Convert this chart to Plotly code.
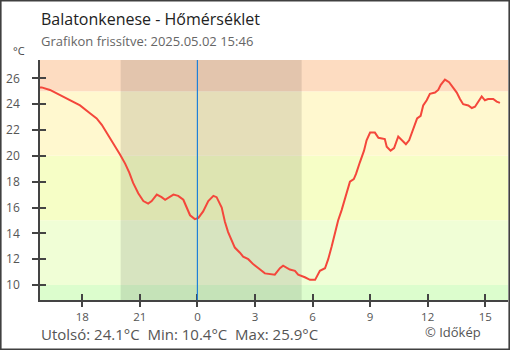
import plotly.graph_objects as go

# Measurement times (local) and air temperature readings, °C
times = [
    "2025-05-01 15:46", "2025-05-01 15:53", "2025-05-01 16:19", "2025-05-01 16:50",
    "2025-05-01 17:22", "2025-05-01 17:53", "2025-05-01 18:24", "2025-05-01 18:45",
    "2025-05-01 19:01", "2025-05-01 19:21", "2025-05-01 19:37", "2025-05-01 19:58",
    "2025-05-01 20:14", "2025-05-01 20:27", "2025-05-01 20:39", "2025-05-01 20:55",
    "2025-05-01 21:11", "2025-05-01 21:26", "2025-05-01 21:37", "2025-05-01 21:53",
    "2025-05-01 22:08", "2025-05-01 22:19", "2025-05-01 22:45", "2025-05-01 23:00",
    "2025-05-01 23:16", "2025-05-01 23:26", "2025-05-01 23:37", "2025-05-01 23:52",
    "2025-05-02 00:03", "2025-05-02 00:18", "2025-05-02 00:34", "2025-05-02 00:50",
    "2025-05-02 01:00", "2025-05-02 01:16", "2025-05-02 01:26", "2025-05-02 01:36",
    "2025-05-02 01:47", "2025-05-02 01:57", "2025-05-02 02:13", "2025-05-02 02:23",
    "2025-05-02 02:39", "2025-05-02 02:55", "2025-05-02 03:16", "2025-05-02 03:31",
    "2025-05-02 04:02", "2025-05-02 04:18", "2025-05-02 04:28", "2025-05-02 04:49",
    "2025-05-02 05:05", "2025-05-02 05:15", "2025-05-02 05:36", "2025-05-02 05:52",
    "2025-05-02 06:08", "2025-05-02 06:18", "2025-05-02 06:23", "2025-05-02 06:39",
    "2025-05-02 06:49", "2025-05-02 07:00", "2025-05-02 07:10", "2025-05-02 07:20",
    "2025-05-02 07:31", "2025-05-02 07:41", "2025-05-02 07:47", "2025-05-02 07:57",
    "2025-05-02 08:09", "2025-05-02 08:16", "2025-05-02 08:28", "2025-05-02 08:41",
    "2025-05-02 08:49", "2025-05-02 09:00", "2025-05-02 09:15", "2025-05-02 09:26",
    "2025-05-02 09:46", "2025-05-02 09:52", "2025-05-02 10:04", "2025-05-02 10:15",
    "2025-05-02 10:28", "2025-05-02 10:39", "2025-05-02 10:52", "2025-05-02 11:02",
    "2025-05-02 11:15", "2025-05-02 11:27", "2025-05-02 11:38", "2025-05-02 11:46",
    "2025-05-02 11:57", "2025-05-02 12:07", "2025-05-02 12:23", "2025-05-02 12:33",
    "2025-05-02 12:41", "2025-05-02 12:54", "2025-05-02 13:07", "2025-05-02 13:20",
    "2025-05-02 13:31", "2025-05-02 13:41", "2025-05-02 13:51", "2025-05-02 14:07",
    "2025-05-02 14:18", "2025-05-02 14:28", "2025-05-02 14:38", "2025-05-02 14:49",
    "2025-05-02 14:59", "2025-05-02 15:09", "2025-05-02 15:25", "2025-05-02 15:36",
    "2025-05-02 15:46",
]
temps = [
    25.3, 25.3, 25.1, 24.7,
    24.3, 23.9, 23.3, 22.9,
    22.4, 21.6, 21.0, 20.1,
    19.4, 18.7, 17.9, 17.1,
    16.5, 16.3, 16.5, 17.0,
    16.8, 16.6, 17.0, 16.9,
    16.6, 16.0, 15.4, 15.1,
    15.2, 15.7, 16.5, 16.9,
    16.8, 16.0, 14.9, 14.1,
    13.4, 12.9, 12.5, 12.2,
    12.0, 11.6, 11.2, 10.9,
    10.8, 11.3, 11.5, 11.2,
    11.1, 10.8, 10.6, 10.4,
    10.4, 10.9, 11.1, 11.3,
    12.0, 13.0, 14.1, 15.0,
    15.8, 16.7, 17.3, 18.0,
    18.2, 18.6, 19.5, 20.4,
    21.2, 21.8, 21.8, 21.4,
    21.3, 20.7, 20.4, 20.6,
    21.5, 21.2, 20.9, 21.2,
    22.1, 22.9, 23.1, 23.9,
    24.3, 24.8, 24.9, 25.1,
    25.5, 25.9, 25.7, 25.3,
    24.9, 24.4, 24.0, 23.9,
    23.7, 23.8, 24.2, 24.6,
    24.3, 24.4, 24.4, 24.2,
    24.1,
]

# Axis ticks
x_tick_vals = ["2025-05-01 18:00", "2025-05-01 21:00", "2025-05-02 00:00", "2025-05-02 03:00",
               "2025-05-02 06:00", "2025-05-02 09:00", "2025-05-02 12:00", "2025-05-02 15:00"]
x_tick_text = ["18", "21", "0", "3", "6", "9", "12", "15"]
y_tick_vals = [10, 12, 14, 16, 18, 20, 22, 24, 26]

# Temperature comfort bands (lower, upper, colour)
band_edges = [(-50, 10, "#dcfdcd"), (10, 15, "#f0fed6"), (15, 20, "#f6fec6"),
              (20, 25, "#fff8cf"), (25, 50, "#fddcc1")]
night_start, night_end = "2025-05-01 20:00", "2025-05-02 05:26"
midnight = "2025-05-02 00:00"

x_range = ["2025-05-01 15:47:48", "2025-05-02 16:11:12"]
y_range = [8.84, 27.42]

FONT = "Open Sans"
W, H = 510, 350
ML, MR, MT, MB = 40, 2, 60, 50
PW, PH = W - ML - MR, H - MT - MB


def px_x(p):
    return (p - ML) / PW


def px_y(p):
    return (H - MB - p) / PH


fig = go.Figure()

fig.add_trace(go.Scatter(
    x=times, y=temps, mode="lines",
    line=dict(color="#f4473b", width=2),
    hoverinfo="skip", showlegend=False,
))

# Invisible trace bound to the overlay axes so the inner tick halves render
fig.add_trace(go.Scatter(x=[times[0]], y=[temps[0]], xaxis="x2", yaxis="y2",
                         mode="markers", marker=dict(opacity=0), showlegend=False,
                         hoverinfo="skip"))

shapes = []
for lo, hi, col in band_edges:
    shapes.append(dict(type="rect", xref="paper", yref="y", x0=0, x1=1, y0=lo, y1=hi,
                       fillcolor=col, line=dict(width=0), layer="below"))
shapes.append(dict(type="rect", xref="x", yref="paper", x0=night_start, x1=night_end,
                   y0=0, y1=1, fillcolor="rgba(0,0,0,0.1)", line=dict(width=0), layer="below"))
shapes.append(dict(type="line", xref="x", yref="paper", x0=midnight, x1=midnight,
                   y0=0, y1=1, line=dict(color="#1f80d8", width=1.2), layer="above"))
# Frame around the whole image
shapes.append(dict(type="rect", xref="paper", yref="paper",
                   x0=px_x(0.8), x1=px_x(509.2), y0=px_y(0.8), y1=px_y(349.2),
                   line=dict(color="#404040", width=1.6), fillcolor="rgba(0,0,0,0)"))

last_t, min_t, max_t = temps[-1], min(temps), max(temps)
nb = "\u00a0"
footer = f"Utolsó: {last_t:.1f}°C{nb*2}Min: {min_t:.1f}°C{nb*2}Max: {max_t:.1f}°C"

annotations = [
    dict(text="Balatonkenese - Hőmérséklet", x=px_x(40), y=px_y(18.5), xanchor="left",
         yanchor="middle", font=dict(family=FONT, size=16, color="#222222")),
    dict(text="Grafikon frissítve: 2025.05.02 15:46", x=px_x(40), y=px_y(41), xanchor="left",
         yanchor="middle", font=dict(family=FONT, size=13, color="#666666")),
    dict(text="°C", x=px_x(19), y=px_y(51), xanchor="center", yanchor="middle",
         font=dict(family=FONT, size=11, color="#444444")),
    dict(text=footer, x=px_x(40), y=px_y(334), xanchor="left", yanchor="middle",
         font=dict(family=FONT, size=15, color="#555555")),
    dict(text="© Időkép", x=px_x(482), y=px_y(332), xanchor="right", yanchor="middle",
         font=dict(family=FONT, size=13, color="#555555")),
]
for a in annotations:
    a.update(xref="paper", yref="paper", showarrow=False, borderpad=0)

xtickfont = dict(family=FONT, size=11.5, color="#555555")
ytickfont = dict(family=FONT, size=12, color="#555555")

fig.update_layout(
    width=W, height=H,
    margin=dict(l=ML, r=MR, t=MT, b=MB),
    paper_bgcolor="white", plot_bgcolor="white",
    shapes=shapes, annotations=annotations,
    xaxis=dict(type="date", range=x_range, tickvals=x_tick_vals, ticktext=x_tick_text,
               ticks="outside", ticklen=5, tickwidth=1.5, tickcolor="#444444",
               showline=True, linecolor="#444444", linewidth=2,
               showgrid=False, zeroline=False, tickfont=xtickfont, fixedrange=True),
    yaxis=dict(range=y_range, tickvals=y_tick_vals, ticks="outside", ticklen=6,
               tickwidth=1.5, tickcolor="#444444", showline=True, linecolor="#444444",
               linewidth=1.5, showgrid=False, zeroline=False, tickfont=ytickfont,
               ticklabelstandoff=10, fixedrange=True),
    xaxis2=dict(type="date", range=x_range, tickvals=x_tick_vals, ticks="inside", ticklen=6,
                tickwidth=1.5, tickcolor="#444444", showticklabels=False, showgrid=False,
                zeroline=False, showline=False, overlaying="x", fixedrange=True),
    yaxis2=dict(range=y_range, tickvals=y_tick_vals, ticks="inside", ticklen=6,
                tickwidth=1.5, tickcolor="#444444", showticklabels=False, showgrid=False,
                zeroline=False, showline=False, overlaying="y", fixedrange=True),
)

fig.write_html("out.html", config={"displayModeBar": False})
